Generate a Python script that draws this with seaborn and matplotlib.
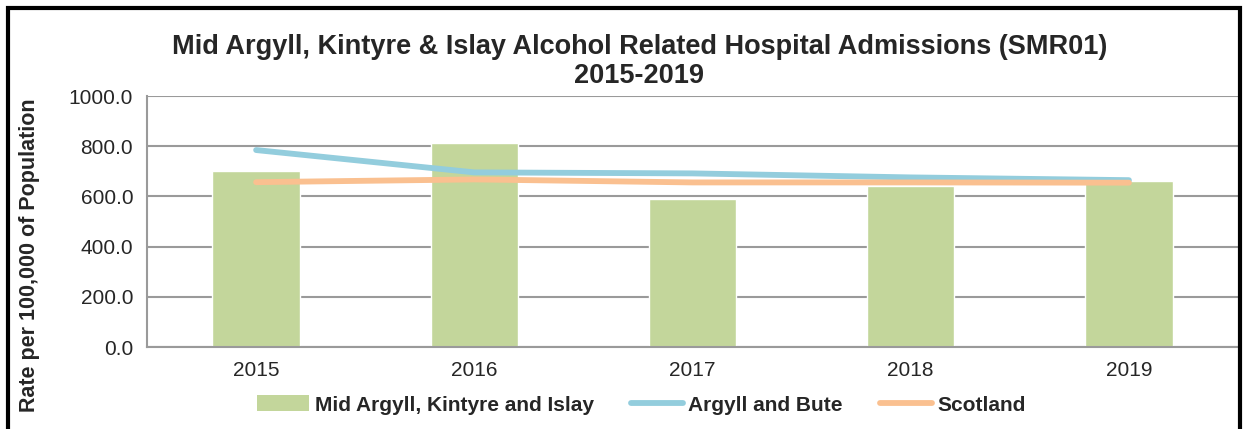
import numpy as np
import pandas as pd
import seaborn as sns
import matplotlib.pyplot as plt
from matplotlib.patches import Rectangle, Patch
from matplotlib.lines import Line2D

# ======================
# Data
# ======================

years = ["2015", "2016", "2017", "2018", "2019"]
mid_argyll = [702.0, 815.0, 588.0, 643.0, 661.0]
argyll_bute = [785.0, 696.0, 692.0, 676.0, 665.0]
scotland = [657.0, 668.0, 656.0, 656.0, 655.0]

df = pd.DataFrame({"Year": years, "Rate": mid_argyll})

# ======================
# Style
# ======================

sns.set_style("white")
plt.rcParams['font.family'] = ['Liberation Sans', 'DejaVu Sans']

GREEN = "#C3D69B"
BLUE = "#93CDDD"
ORANGE = "#FAC090"
GRID = "#9A9A9A"

fig = plt.figure(figsize=(12.46, 4.29), dpi=100)
ax = fig.add_axes([0.118, 0.191, 0.8756, 0.585])

sns.barplot(
    data=df,
    x="Year",
    y="Rate",
    color=GREEN,
    saturation=1,
    width=0.4,
    ax=ax,
    zorder=2
)

x_pos = np.arange(len(years))

sns.lineplot(x=x_pos, y=argyll_bute, color=BLUE, linewidth=4.2,
             ax=ax, zorder=3, solid_capstyle="round")
sns.lineplot(x=x_pos, y=scotland, color=ORANGE, linewidth=4.2,
             ax=ax, zorder=4, solid_capstyle="round")

# ======================
# Axes
# ======================

ax.set_xlim(-0.5, 4.5)
ax.set_ylim(0, 1000)
ax.set_yticks(np.arange(0, 1001, 200))
ax.set_yticklabels([f"{v:.1f}" for v in np.arange(0, 1001, 200)])
ax.set_xticks(x_pos)
ax.set_xticklabels(years)
ax.set_xticks(np.arange(-0.5, 4.6, 1), minor=True)

ax.yaxis.grid(True, color=GRID, linewidth=1.5, zorder=0)
ax.set_axisbelow(True)

for side in ["top", "right"]:
    ax.spines[side].set_visible(False)
for side in ["left", "bottom"]:
    ax.spines[side].set_color(GRID)
    ax.spines[side].set_linewidth(1.5)

ax.tick_params(axis="y", which="major", length=6, width=1.5, color=GRID,
               labelsize=15, pad=4)
ax.tick_params(axis="x", which="major", length=0, labelsize=15, pad=10)
ax.tick_params(axis="x", which="minor", length=6, width=1.5, color=GRID)

ax.set_xlabel("")
ax.set_ylabel("")

fig.text(0.0235, 0.405, "Rate per 100,000 of Population", rotation=90,
         ha="center", va="center", fontsize=15.5, fontweight="bold")

fig.text(0.513, 0.92,
         "Mid Argyll, Kintyre & Islay Alcohol Related Hospital Admissions (SMR01)\n2015-2019",
         ha="center", va="top", fontsize=19.5, fontweight="bold", linespacing=1.15)

# ======================
# Legend
# ======================

handles = [
    Patch(facecolor=GREEN, edgecolor="none"),
    Line2D([0], [0], color=BLUE, linewidth=4.2, solid_capstyle="round"),
    Line2D([0], [0], color=ORANGE, linewidth=4.2, solid_capstyle="round"),
]
labels = ["Mid Argyll, Kintyre and Islay", "Argyll and Bute", "Scotland"]

fig.legend(
    handles, labels,
    loc="center",
    bbox_to_anchor=(0.515, 0.056),
    ncol=3,
    frameon=False,
    handlelength=2.5,
    handleheight=0.8,
    handletextpad=0.25,
    columnspacing=1.8,
    prop={"weight": "bold", "size": 15}
)

# chart border
fig.patches.append(Rectangle((0.0065, -0.05), 0.9885, 1.032,
                             transform=fig.transFigure, fill=False,
                             edgecolor="black", linewidth=3))

plt.savefig("out.png", dpi=100)
plt.close()
